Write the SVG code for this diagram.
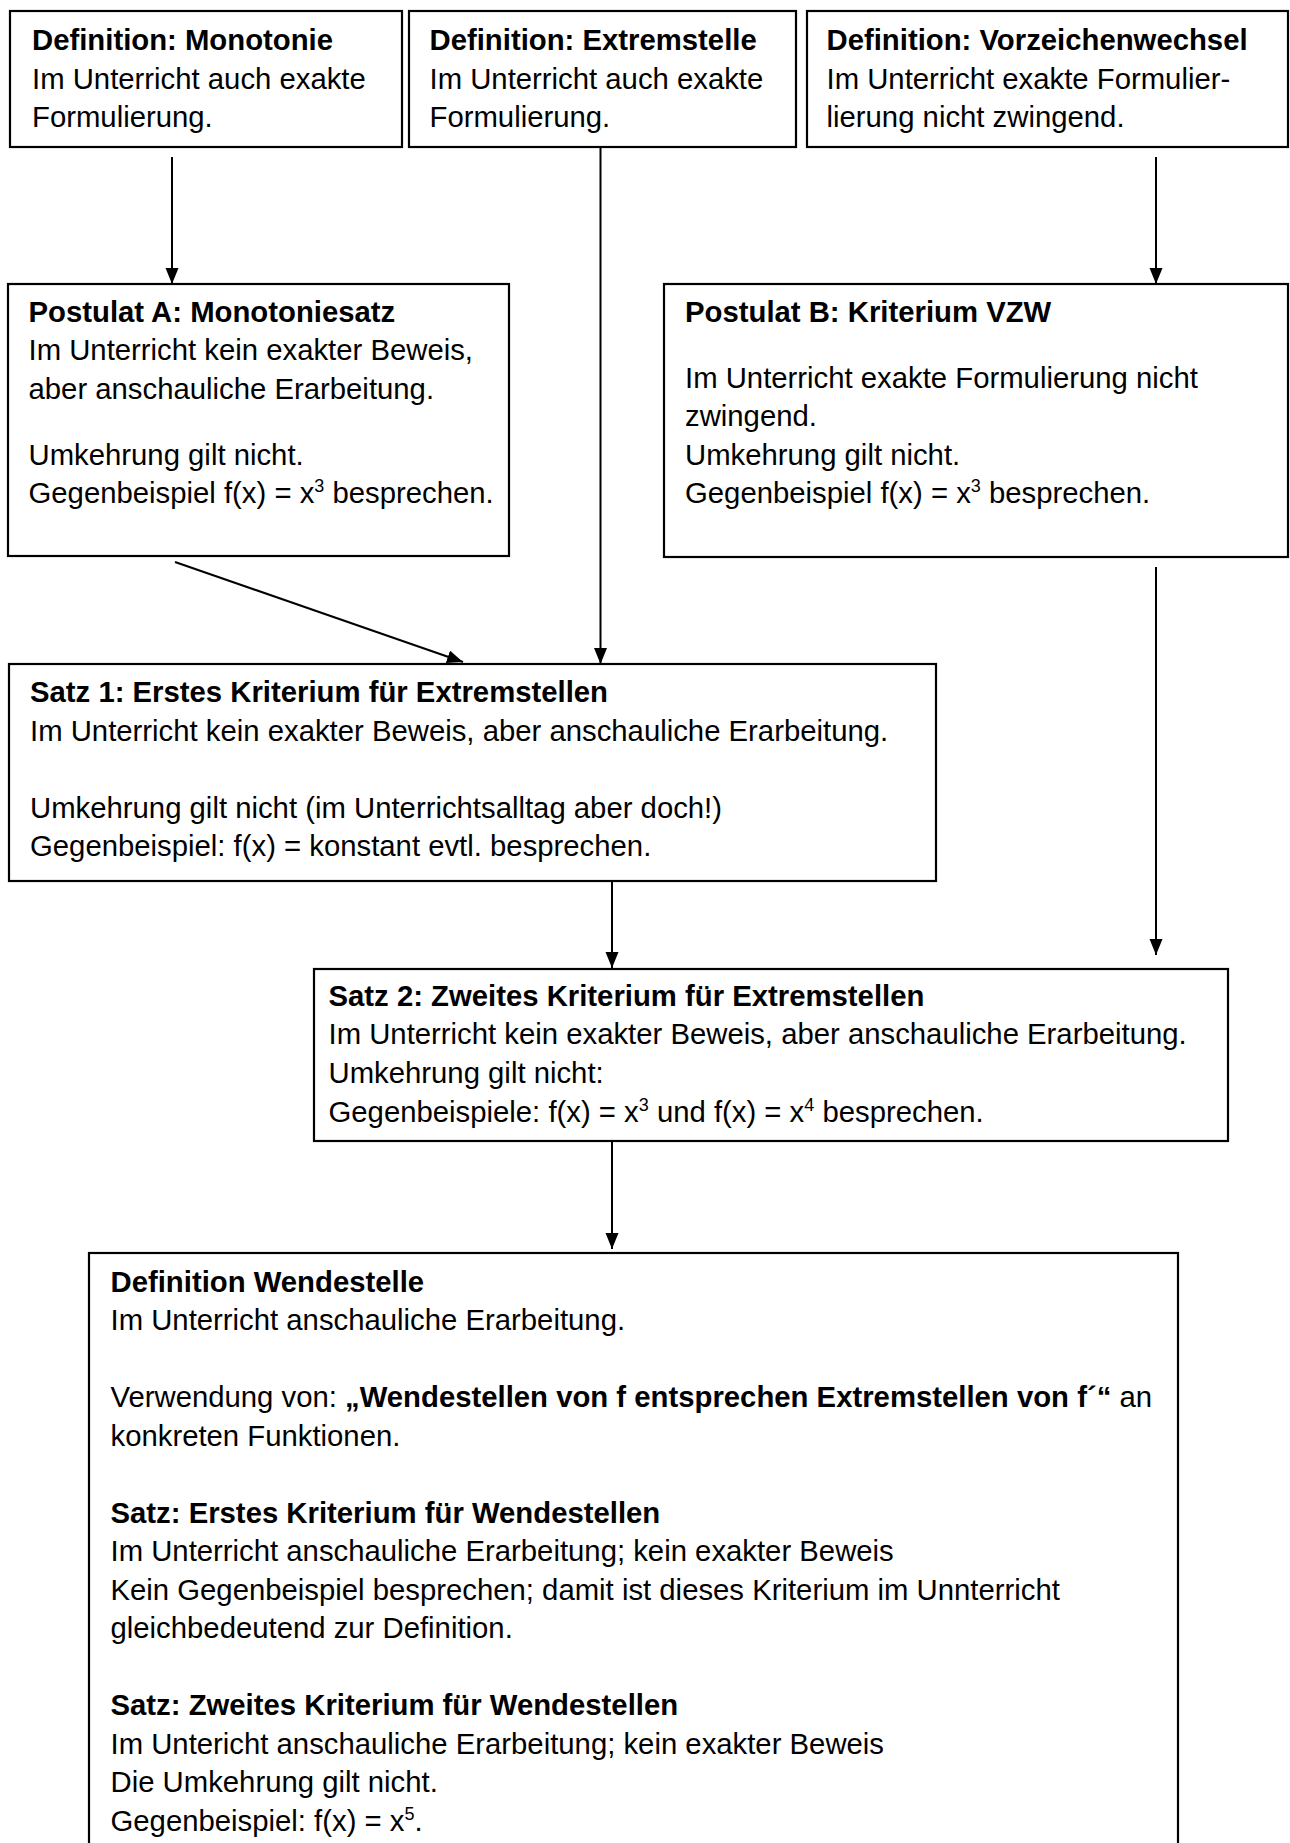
<svg xmlns="http://www.w3.org/2000/svg" width="1290" height="1843" viewBox="0 0 1290 1843">
<style>
.box { fill: #fff; stroke: #000; stroke-width: 2.2; }
.t { font-family: "Liberation Sans", Arial, sans-serif; font-size: 29.3px; fill: #000; }
.b { font-weight: bold; }
.sup { font-size: 18px; }
.conn { stroke: #000; stroke-width: 2; fill: none; marker-end: url(#arr); }
</style>
<defs>
<marker id="arr" markerUnits="userSpaceOnUse" markerWidth="18" markerHeight="14" refX="16" refY="6.5" orient="auto">
<path d="M0,0 L16,6.5 L0,13 z" fill="#000"/>
</marker>
</defs>
<rect width="1290" height="1843" fill="#fff"/>

<g id="connectors">
<line class="conn" x1="172" y1="157" x2="172" y2="284"/>
<line class="conn" x1="600.5" y1="147" x2="600.5" y2="664"/>
<line class="conn" x1="1156" y1="157" x2="1156" y2="284"/>
<line class="conn" x1="175" y1="562" x2="463" y2="662"/>
<line class="conn" x1="1156" y1="567" x2="1156" y2="955"/>
<line class="conn" x1="612" y1="881" x2="612" y2="968"/>
<line class="conn" x1="612" y1="1141" x2="612" y2="1249"/>
</g>

<g id="def-monotonie">
<rect class="box" x="10" y="11" width="392" height="136"/>
<text class="t b" x="32" y="50">Definition: Monotonie</text>
<text class="t" x="32" y="88.5">Im Unterricht auch exakte</text>
<text class="t" x="32" y="127">Formulierung.</text>
</g>

<g id="def-extremstelle">
<rect class="box" x="409" y="11" width="387" height="136"/>
<text class="t b" x="429.5" y="50">Definition: Extremstelle</text>
<text class="t" x="429.5" y="88.5">Im Unterricht auch exakte</text>
<text class="t" x="429.5" y="127">Formulierung.</text>
</g>

<g id="def-vzw">
<rect class="box" x="807" y="11" width="481" height="136"/>
<text class="t b" x="826.5" y="50">Definition: Vorzeichenwechsel</text>
<text class="t" x="826.5" y="88.5">Im Unterricht exakte Formulier-</text>
<text class="t" x="826.5" y="127">lierung nicht zwingend.</text>
</g>

<g id="postulat-a">
<rect class="box" x="8" y="284" width="501" height="272"/>
<text class="t b" x="28.5" y="321.5">Postulat A: Monotoniesatz</text>
<text class="t" x="28.5" y="360">Im Unterricht kein exakter Beweis,</text>
<text class="t" x="28.5" y="398.5">aber anschauliche Erarbeitung.</text>
<text class="t" x="28.5" y="464.5">Umkehrung gilt nicht.</text>
<text class="t" x="28.5" y="503">Gegenbeispiel f(x) = x<tspan class="sup" dy="-11">3</tspan><tspan dy="11"> besprechen.</tspan></text>
</g>

<g id="postulat-b">
<rect class="box" x="664" y="284" width="624" height="273"/>
<text class="t b" x="685" y="321.5">Postulat B: Kriterium VZW</text>
<text class="t" x="685" y="387.5">Im Unterricht exakte Formulierung nicht</text>
<text class="t" x="685" y="426">zwingend.</text>
<text class="t" x="685" y="464.5">Umkehrung gilt nicht.</text>
<text class="t" x="685" y="503">Gegenbeispiel f(x) = x<tspan class="sup" dy="-11">3</tspan><tspan dy="11"> besprechen.</tspan></text>
</g>

<g id="satz-1">
<rect class="box" x="9" y="664" width="927" height="217"/>
<text class="t b" x="30" y="701.5">Satz 1: Erstes Kriterium für Extremstellen</text>
<text class="t" x="30" y="740.5">Im Unterricht kein exakter Beweis, aber anschauliche Erarbeitung.</text>
<text class="t" x="30" y="817.5">Umkehrung gilt nicht (im Unterrichtsalltag aber doch!)</text>
<text class="t" x="30" y="856">Gegenbeispiel: f(x) = konstant evtl. besprechen.</text>
</g>

<g id="satz-2">
<rect class="box" x="314" y="969" width="914" height="172"/>
<text class="t b" x="328.5" y="1005.5">Satz 2: Zweites Kriterium für Extremstellen</text>
<text class="t" x="328.5" y="1044">Im Unterricht kein exakter Beweis, aber anschauliche Erarbeitung.</text>
<text class="t" x="328.5" y="1082.5">Umkehrung gilt nicht:</text>
<text class="t" x="328.5" y="1121.5">Gegenbeispiele: f(x) = x<tspan class="sup" dy="-11">3</tspan><tspan dy="11"> und f(x) = x</tspan><tspan class="sup" dy="-11">4</tspan><tspan dy="11"> besprechen.</tspan></text>
</g>

<g id="def-wendestelle">
<rect class="box" x="89" y="1253" width="1089" height="620"/>
<text class="t b" x="110.5" y="1291.5">Definition Wendestelle</text>
<text class="t" x="110.5" y="1330">Im Unterricht anschauliche Erarbeitung.</text>
<text class="t" x="110.5" y="1407">Verwendung von: <tspan class="b">„Wendestellen von f entsprechen Extremstellen von f´“</tspan> an</text>
<text class="t" x="110.5" y="1445.5">konkreten Funktionen.</text>
<text class="t b" x="110.5" y="1522.5">Satz: Erstes Kriterium für Wendestellen</text>
<text class="t" x="110.5" y="1561">Im Unterricht anschauliche Erarbeitung; kein exakter Beweis</text>
<text class="t" x="110.5" y="1599.5">Kein Gegenbeispiel besprechen; damit ist dieses Kriterium im Unnterricht</text>
<text class="t" x="110.5" y="1638">gleichbedeutend zur Definition.</text>
<text class="t b" x="110.5" y="1715">Satz: Zweites Kriterium für Wendestellen</text>
<text class="t" x="110.5" y="1753.5">Im Untericht anschauliche Erarbeitung; kein exakter Beweis</text>
<text class="t" x="110.5" y="1792">Die Umkehrung gilt nicht.</text>
<text class="t" x="110.5" y="1830.5">Gegenbeispiel: f(x) = x<tspan class="sup" dy="-11">5</tspan><tspan dy="11">.</tspan></text>
</g>
</svg>
